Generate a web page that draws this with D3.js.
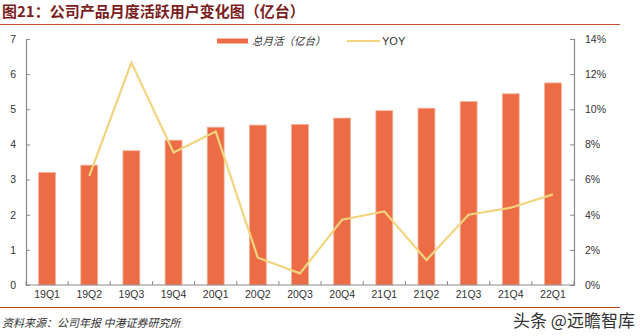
<!DOCTYPE html>
<html><head><meta charset="utf-8">
<script src="https://cdn.jsdelivr.net/npm/d3@7"></script>
<style>body{margin:0;background:#fff}svg{display:block}</style>
</head><body>
<svg id="c" width="640" height="336"></svg>
<script>
const categories = ["19Q1","19Q2","19Q3","19Q4","20Q1","20Q2","20Q3","20Q4","21Q1","21Q2","21Q3","21Q4","22Q1"];
const mau = [3.2,3.41,3.82,4.12,4.49,4.55,4.57,4.75,4.96,5.03,5.22,5.44,5.75];
const yoy = [null,6.2,12.66,7.54,8.73,1.55,0.66,3.72,4.19,1.42,4.0,4.4,5.16];
const leftTicks = [0,1,2,3,4,5,6,7];
const rightTicks = [0,2,4,6,8,10,12,14];
const seriesNames = ["总月活（亿台）","YOY"];
const titleText = "图21：公司产品月度活跃用户变化图（亿台）";
const sourceText = "资料来源：公司年报 中港证券研究所";
const watermark = "头条 @远瞻智库";

const svg = d3.select("#c");
const L = 26, R = 574, T = 39, B = 285;
const barColor = "#EC6D45", lineColor = "#F3D47E", axisColor = "#8a8a8a", textColor = "#333";
const font = "'Liberation Sans', Arial, sans-serif";
const cjk = "'Noto Sans CJK SC', sans-serif";

const x = d3.scaleBand().domain(categories).range([L, R]).paddingInner(0.6).paddingOuter(0.3);
const y = d3.scaleLinear().domain([0, 7]).range([B, T]);
const y2 = d3.scaleLinear().domain([0, 14]).range([B, T]);

// title
svg.append("text").attr("x", 2).attr("y", 17).attr("font-family", cjk).attr("font-weight", "bold")
  .attr("font-size", 15).attr("fill", "#7B1E1E").text(titleText);
svg.append("line").attr("x1", 0).attr("x2", 620).attr("y1", 24.5).attr("y2", 24.5)
  .attr("stroke", "#C4532E").attr("stroke-width", 1.2);

// bars
svg.append("g").selectAll("rect").data(categories).join("rect")
  .attr("x", d => x(d)).attr("width", x.bandwidth())
  .attr("y", (d, i) => y(mau[i])).attr("height", (d, i) => B - y(mau[i]))
  .attr("fill", barColor).attr("stroke", "#F6B098").attr("stroke-width", 0.8);

// line
const line = d3.line().defined(d => d.v != null)
  .x(d => x(d.c) + x.bandwidth() / 2).y(d => y2(d.v));
svg.append("path").datum(categories.map((c, i) => ({c, v: yoy[i]})))
  .attr("d", line).attr("fill", "none").attr("stroke", lineColor).attr("stroke-width", 2.2)
  .attr("stroke-linejoin", "miter");

// left axis
const ax = d3.axisLeft(y).tickValues(leftTicks).tickSize(-4).tickPadding(10).tickFormat(d3.format("d"));
const gL = svg.append("g").attr("transform", `translate(${L},0)`).call(ax);
// right axis
const ax2 = d3.axisRight(y2).tickValues(rightTicks).tickSize(-4).tickPadding(11).tickFormat(d => d + "%");
const gR = svg.append("g").attr("transform", `translate(${R},0)`).call(ax2);
// bottom axis
const step = x.step();
const ax3 = d3.axisBottom(x).tickSize(0).tickPadding(6);
const gB = svg.append("g").attr("transform", `translate(0,${B})`).call(ax3);
gB.selectAll(".tick").append("line").attr("x1", -step / 2).attr("x2", -step / 2).attr("y1", 0).attr("y2", -4);
gB.select(".tick:last-of-type").append("line").attr("x1", step / 2).attr("x2", step / 2).attr("y1", 0).attr("y2", -4);

[gL, gR, gB].forEach(g => {
  g.selectAll("path.domain").attr("stroke", axisColor).attr("stroke-width", 1.2);
  g.selectAll(".tick line").attr("stroke", axisColor).attr("stroke-width", 1);
  g.selectAll("text").attr("font-family", font).attr("font-size", 10.5).attr("fill", textColor);
});
gB.select("path.domain").attr("d", `M${L},0H${R}`);

// legend
const lg = svg.append("g");
lg.append("line").attr("x1", 217).attr("x2", 248).attr("y1", 41).attr("y2", 41).attr("stroke", barColor).attr("stroke-width", 5);
lg.append("text").attr("x", 252).attr("y", 45).attr("font-family", cjk).attr("font-size", 10.5).attr("fill", textColor)
  .attr("font-style", "italic").text(seriesNames[0]);
lg.append("line").attr("x1", 347).attr("x2", 380).attr("y1", 41).attr("y2", 41).attr("stroke", lineColor).attr("stroke-width", 2.2);
lg.append("text").attr("x", 382).attr("y", 45).attr("font-family", font).attr("font-size", 11).attr("fill", textColor).text(seriesNames[1]);

// bottom
svg.append("line").attr("x1", 0).attr("x2", 620).attr("y1", 307.5).attr("y2", 307.5).attr("stroke", "#B8461F").attr("stroke-width", 1.2);
svg.append("text").attr("x", 2).attr("y", 327).attr("font-family", cjk).attr("font-style", "italic")
  .attr("font-size", 11).attr("fill", "#333").text(sourceText);
svg.append("text").attr("x", 513).attr("y", 327).attr("font-family", cjk)
  .attr("font-size", 17).attr("fill", "#333").attr("stroke", "#fff").attr("stroke-width", 2).attr("paint-order", "stroke").text(watermark);
</script>
</body></html>
